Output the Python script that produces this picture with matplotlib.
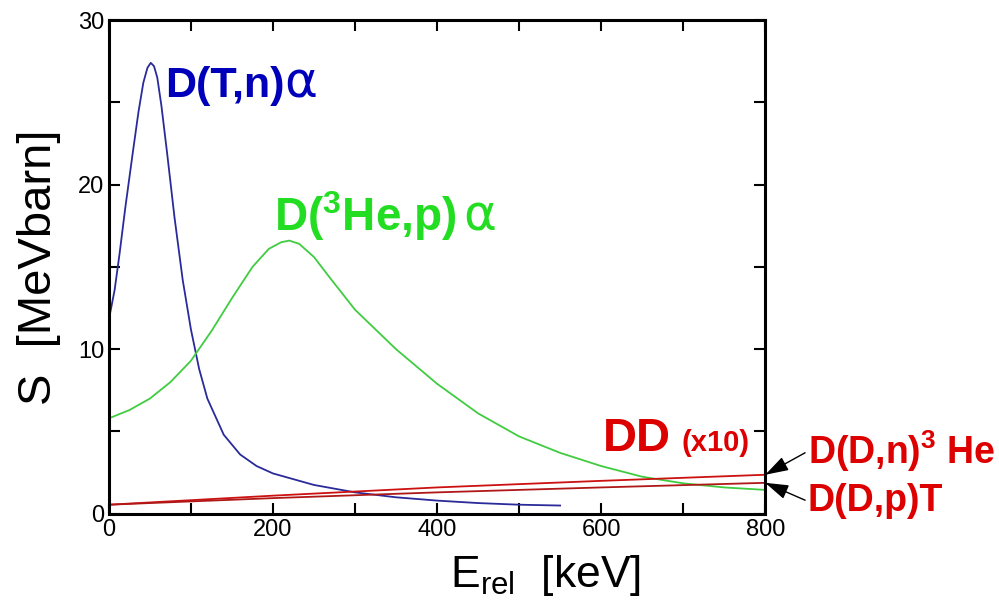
import numpy as np
import matplotlib
matplotlib.use("Agg")
import matplotlib.pyplot as plt
from matplotlib.ticker import MultipleLocator

plt.rcParams['font.family'] = ['Liberation Sans', 'DejaVu Sans']
plt.rcParams['mathtext.fontset'] = 'custom'
plt.rcParams['mathtext.rm'] = 'Liberation Sans'
plt.rcParams['mathtext.it'] = 'Liberation Sans:italic'
plt.rcParams['mathtext.bf'] = 'Liberation Sans:bold'

# data (E in keV, S in MeV barn)
e_dt = [0, 7, 13, 20, 29, 36, 42, 47, 51, 55, 59, 64, 71, 80, 90, 100, 110,
        120, 140, 160, 180, 200, 250, 300, 350, 400, 450, 500, 550]
s_dt = [11.8, 13.6, 15.8, 18.6, 21.9, 24.4, 26.2, 27.1, 27.4, 27.2, 26.5,
        24.8, 21.9, 18.0, 14.2, 11.2, 8.8, 7.0, 4.8, 3.6, 2.9, 2.45, 1.75,
        1.3, 1.0, 0.8, 0.65, 0.55, 0.5]

e_d3he = [0, 25, 50, 75, 100, 125, 150, 175, 195, 210, 220, 232, 250, 270,
          300, 350, 400, 450, 500, 550, 600, 650, 700, 750, 800]
s_d3he = [5.8, 6.3, 7.0, 8.0, 9.3, 11.1, 13.1, 15.0, 16.1, 16.5, 16.6, 16.4,
          15.6, 14.3, 12.4, 10.0, 7.9, 6.1, 4.7, 3.7, 2.9, 2.25, 1.85, 1.6,
          1.45]

e_dd = [0, 200, 400, 600, 800]
s_ddn = [0.55, 1.1, 1.6, 2.0, 2.37]   # D(D,n)3He, x10
s_ddp = [0.55, 0.95, 1.3, 1.6, 1.88]  # D(D,p)T, x10

blue = '#2a2a9a'
green = '#40cc40'
red = '#cc1111'
label_blue = '#0000bb'
label_green = '#22dd22'
label_red = '#dd0000'

fig = plt.figure(figsize=(9.99, 6.08), dpi=100)
ax = fig.add_axes([0.109, 0.155, 0.657, 0.812])

ax.plot(e_dt, s_dt, color=blue, lw=1.3)
ax.plot(e_d3he, s_d3he, color=green, lw=1.3)
ax.plot(e_dd, s_ddn, color=red, lw=1.3)
ax.plot(e_dd, s_ddp, color='#b01818', lw=1.3)

ax.set_xlim(0, 800)
ax.set_ylim(0, 30)
ax.set_xticks([0, 200, 400, 600, 800])
ax.set_yticks([0, 10, 20, 30])
ax.xaxis.set_minor_locator(MultipleLocator(100))
ax.yaxis.set_minor_locator(MultipleLocator(5))
ax.tick_params(which='both', direction='in', top=True, right=True,
               length=8, width=1.5, labelsize=17)
for s in ax.spines.values():
    s.set_linewidth(2.2)

ax.set_xlabel(r'E$_{\mathrm{rel}}$  [keV]', fontsize=32)
ax.xaxis.set_label_coords(0.665, -0.08, transform=ax.transAxes)
ax.xaxis.label.set_va('top')
ax.set_ylabel('S  [MeVbarn]', fontsize=34, labelpad=12)

# curve labels
ax.text(68, 25.3, 'D(T,n)', color=label_blue, fontsize=31,
        fontweight='bold', va='baseline')
ax.text(214, 25.3, 'α', color=label_blue, fontsize=36,
        family='DejaVu Sans', va='baseline')
ax.text(201, 17.2, r'D($^{\mathbf{3}}$He,p)', color=label_green,
        fontsize=33, fontweight='bold', va='baseline')
ax.text(432, 17.2, 'α', color=label_green, fontsize=36,
        family='DejaVu Sans', va='baseline')
ax.text(602, 3.8, 'DD', color=label_red, fontsize=34, fontweight='bold',
        va='baseline')
ax.text(698, 3.8, '(x10)', color=label_red, fontsize=21, fontweight='bold',
        va='baseline')

arrow = dict(arrowstyle='-|>,head_length=0.95,head_width=0.3',
             color='black', lw=1, mutation_scale=15, shrinkA=0, shrinkB=0,
             relpos=(0, 0.5))
ax.annotate(r'D(D,n)$^{\mathbf{3}}$ He', xy=(800, s_ddn[-1]),
            xytext=(852, 3.8), color=label_red, fontsize=27,
            fontweight='bold', va='center', arrowprops=arrow,
            annotation_clip=False)
ax.annotate('D(D,p)T', xy=(800, s_ddp[-1]),
            xytext=(852, 0.75), color=label_red, fontsize=27,
            fontweight='bold', va='center', arrowprops=arrow,
            annotation_clip=False)

fig.savefig('out.png', dpi=100)
